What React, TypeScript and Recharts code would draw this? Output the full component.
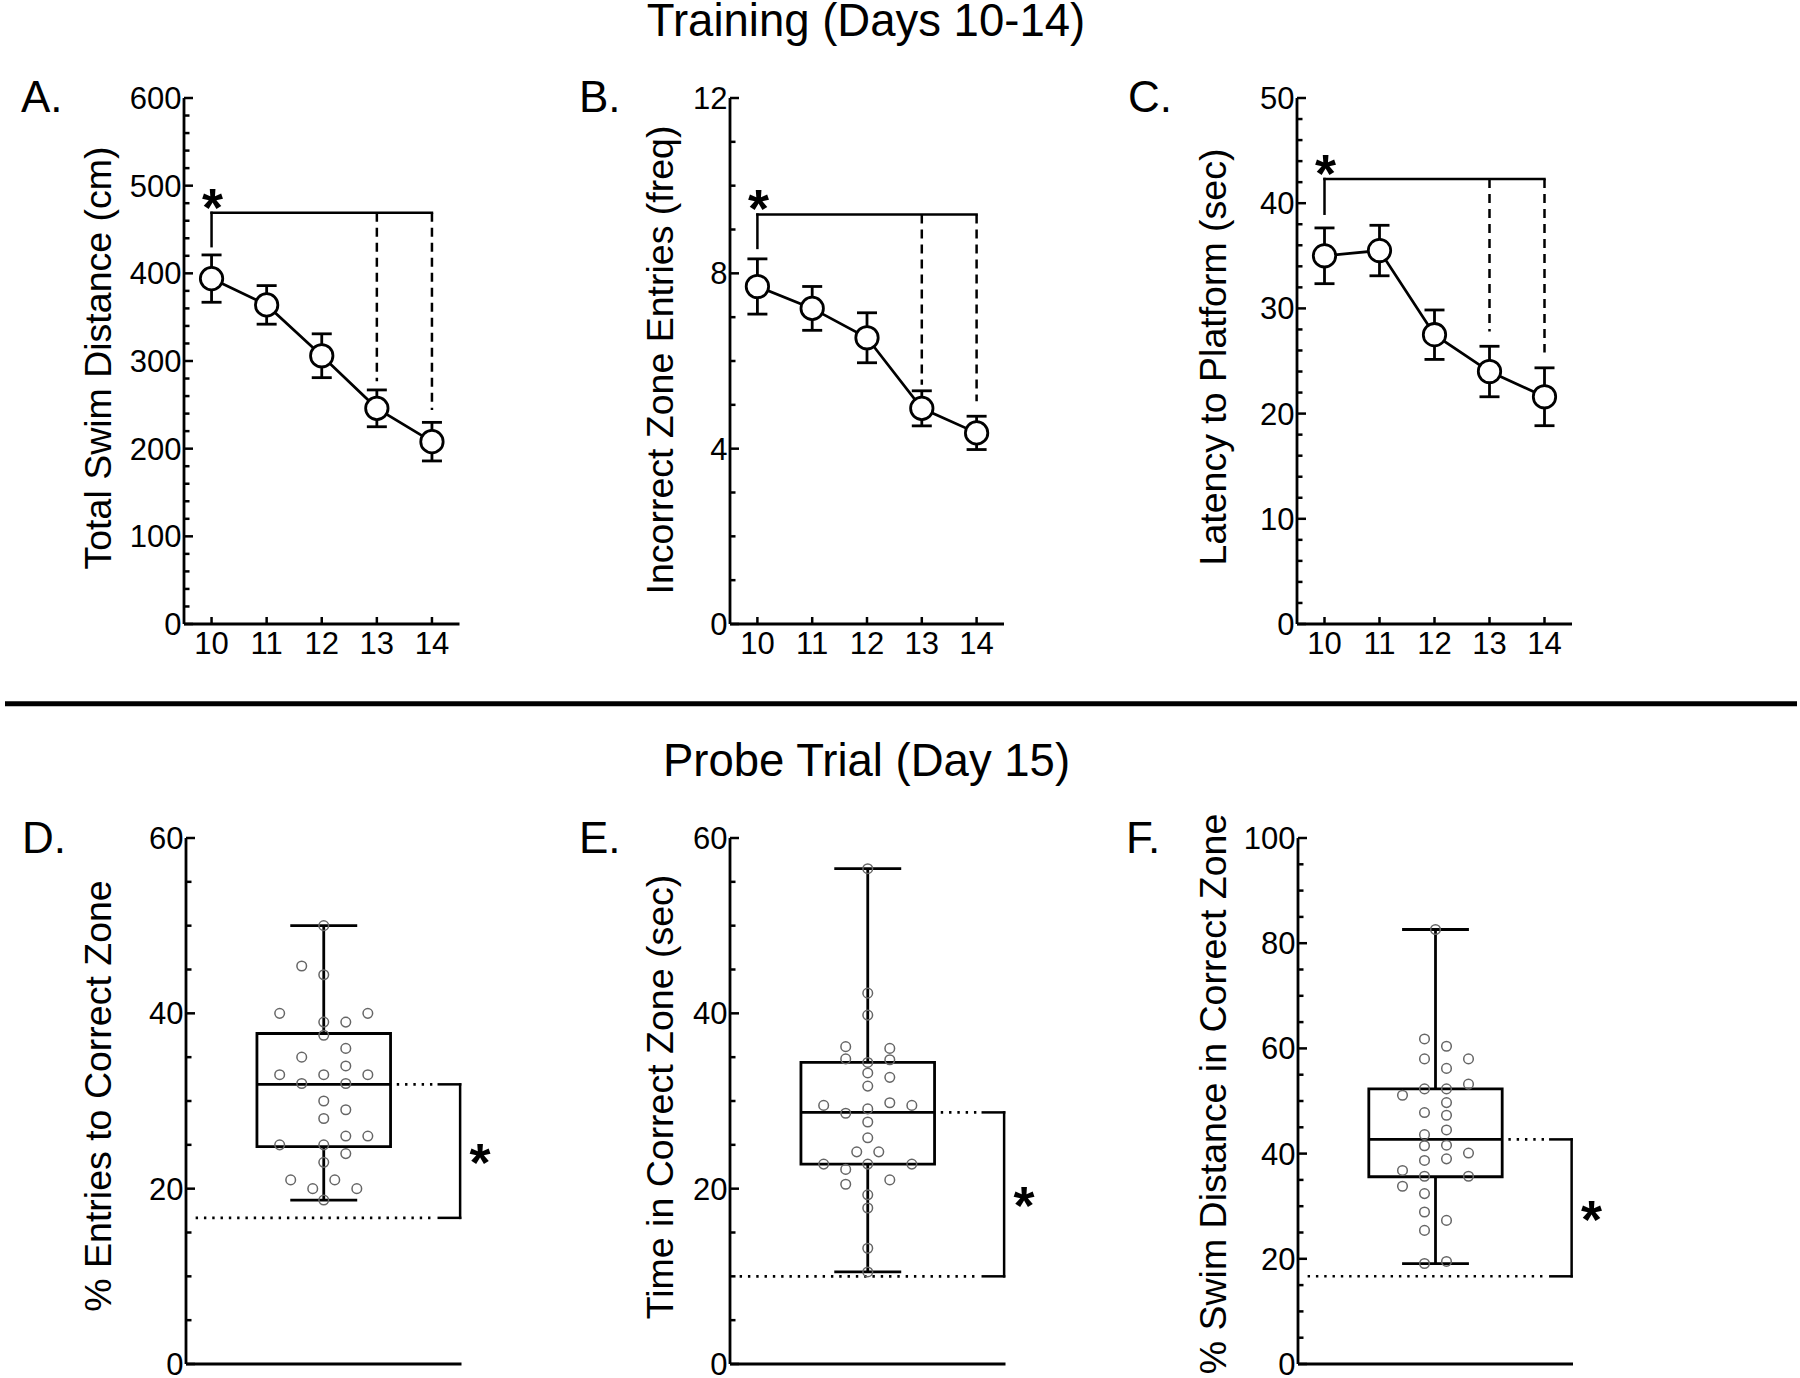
import React from "react";
import {
  ComposedChart,
  Line,
  Scatter,
  XAxis,
  YAxis,
  ErrorBar,
  ReferenceLine,
  ReferenceArea,
  ReferenceDot,
} from "recharts";

const FONT = '"Liberation Sans", Arial, Helvetica, sans-serif';

// ---- training (days 10-14) ----
const DAYS = [10, 11, 12, 13, 14];
const SWIM_MEAN = [394, 364, 306, 246, 208];
const SWIM_SEM = [27, 22, 25, 21, 22];
const ENTRIES_MEAN = [7.7, 7.2, 6.53, 4.92, 4.36];
const ENTRIES_SEM = [0.63, 0.5, 0.57, 0.4, 0.38];
const LATENCY_MEAN = [35.0, 35.5, 27.5, 24.0, 21.6];
const LATENCY_SEM = [2.65, 2.4, 2.35, 2.4, 2.75];

// significance brackets: [bar level, left end, day 13 end, day 14 end]
const SWIM_BRACKET = [469, 431, 277, 244];
const ENTRIES_BRACKET = [9.34, 8.58, 5.46, 5.08];
const LATENCY_BRACKET = [42.3, 39.0, 27.8, 25.8];

const SWIM_TICKS = [0, 100, 200, 300, 400, 500, 600];
const ENTRIES_TICKS = [0, 4, 8, 12];
const LATENCY_TICKS = [0, 10, 20, 30, 40, 50];

// ---- probe trial (day 15) ----
// jitter column (half-units) and value of each animal
const D_COLS = [0, -2, 0, -4, 4, 0, 2, 0, 2, -2, 2, -4, 0, 4, -2, 2, 0, 2, 0, 2, 4, -4, 0, 2, 0, -3, 1, -1, 3, 0];
const D_VALS = [50, 45.4, 44.4, 40, 40, 39, 39, 37.5, 36, 35, 34, 33, 33, 33, 32, 32, 30, 29, 28, 26, 26, 25, 25, 24, 23, 21, 21, 20, 20, 18.7];
const D_BOX = [18.7, 24.8, 31.9, 37.7, 50]; // min, q1, median, q3, max

const E_COLS = [0, 0, 0, -2, 2, -2, 2, 0, 0, 2, 0, -4, 2, 4, -2, 0, 0, 0, -1, 1, -4, 0, 4, -2, 2, -2, 0, 0, 0, 0];
const E_VALS = [56.5, 42.3, 39.8, 36.2, 36.0, 34.8, 34.7, 34.4, 33.2, 32.7, 31.7, 29.5, 29.8, 29.5, 28.6, 29.1, 27.6, 25.8, 24.2, 24.2, 22.8, 22.8, 22.8, 22.2, 21.0, 20.5, 19.3, 17.8, 13.2, 10.5];
const E_BOX = [10.5, 22.8, 28.7, 34.4, 56.5];

const F_COLS = [0, -1, 1, -1, 3, 1, 3, -1, 1, -3, 1, -1, 1, 1, -1, -1, 1, 3, -1, 1, -3, -1, 3, -3, -1, -1, 1, -1, -1, 1];
const F_VALS = [82.6, 61.8, 60.4, 58.0, 58.0, 56.2, 53.2, 52.3, 52.3, 51.1, 49.7, 47.8, 47.3, 44.5, 43.6, 41.5, 41.6, 40.1, 38.7, 39.0, 36.8, 35.7, 35.7, 33.8, 32.4, 28.9, 27.3, 25.4, 19.1, 19.5];
const F_BOX = [19.1, 35.6, 42.7, 52.3, 82.6];

const PCT_TICKS = [0, 20, 40, 60];
const TIME_TICKS = [0, 20, 40, 60];
const DIST_TICKS = [0, 20, 40, 60, 80, 100];

const CHANCE = [16.67, 10, 16.67];

const STROKE = 2.8;
const PLOT_H = 526;
const M = { top: 40, right: 70, bottom: 30, left: 20 };
const YW = 80;
const XH = 50;
const STAR_SIZE = 54;

function allTicks(max: number, step: number) {
  const out: number[] = [];
  for (let v = 0; v <= max + 1e-9; v += step) out.push(Math.round(v * 100) / 100);
  return out;
}

function YTick(props: any) {
  const { x, y, payload, majors } = props;
  const major = majors.includes(payload.value);
  return (
    <g>
      <line x1={x} x2={x + (major ? 9 : 5.5)} y1={y} y2={y} stroke="#000" strokeWidth={2.5} />
      {major && (
        <text x={x - 2.5} y={y + 11} textAnchor="end" fontSize={31} fontFamily={FONT} fill="#000">
          {payload.value}
        </text>
      )}
    </g>
  );
}

function XTick(props: any) {
  const { x, y, payload } = props;
  return (
    <g>
      <line x1={x} x2={x} y1={y} y2={y - 7} stroke="#000" strokeWidth={2.5} />
      <text x={x} y={y + 29.5} textAnchor="middle" fontSize={31} fontFamily={FONT} fill="#000">
        {payload.value}
      </text>
    </g>
  );
}

function Asterisk(props: any) {
  const { cx, cy, dx = 0, dy = 0 } = props;
  return (
    <text
      x={cx + dx}
      y={cy + dy + 0.55 * STAR_SIZE}
      textAnchor="middle"
      fontSize={STAR_SIZE}
      fontWeight="bold"
      fontFamily={FONT}
      fill="#000"
    >
      *
    </text>
  );
}

type LinePanelProps = {
  left: number;
  top: number;
  plotW: number;
  means: number[];
  sems: number[];
  majors: number[];
  minorStep: number;
  bracket: number[];
};

function LinePanel({ left, top, plotW, means, sems, majors, minorStep, bracket }: LinePanelProps) {
  const rows = DAYS.map((d, i) => ({ day: d, mean: means[i], err: sems[i] }));
  const yMax = majors[majors.length - 1];
  const width = M.left + YW + plotW + M.right;
  const height = M.top + PLOT_H + XH + M.bottom;
  const [bar, leftEnd, end13, end14] = bracket;
  return (
    <div style={{ position: "absolute", left: left - M.left - YW, top: top - M.top }}>
      <ComposedChart width={width} height={height} data={rows} margin={M}>
        <XAxis
          type="number"
          dataKey="day"
          domain={[9.5, 14.5]}
          ticks={DAYS}
          interval={0}
          tickLine={false}
          tickSize={0}
          tickMargin={0}
          height={XH}
          tick={(p: any) => <XTick {...p} />}
          axisLine={{ stroke: "#000", strokeWidth: STROKE }}
        />
        <YAxis
          type="number"
          domain={[0, yMax]}
          ticks={allTicks(yMax, minorStep)}
          interval={0}
          width={YW}
          tickLine={false}
          tickSize={0}
          tickMargin={0}
          tick={(p: any) => <YTick {...p} majors={majors} />}
          axisLine={{ stroke: "#000", strokeWidth: STROKE }}
        />
        <ReferenceLine segment={[{ x: 10, y: bar }, { x: 14, y: bar }]} stroke="#000" strokeWidth={2.5} strokeLinecap="square" />
        <ReferenceLine segment={[{ x: 10, y: bar }, { x: 10, y: leftEnd }]} stroke="#000" strokeWidth={2.5} strokeLinecap="square" />
        <ReferenceLine segment={[{ x: 13, y: bar }, { x: 13, y: end13 }]} stroke="#000" strokeWidth={2.5} strokeDasharray="9 6" />
        <ReferenceLine segment={[{ x: 14, y: bar }, { x: 14, y: end14 }]} stroke="#000" strokeWidth={2.5} strokeDasharray="9 6" />
        <ReferenceDot x={10} y={bar} r={0} shape={(p: any) => <Asterisk {...p} dx={1} dy={-17} />} />
        <Line
          dataKey="mean"
          stroke="#000"
          strokeWidth={2.7}
          dot={false}
          activeDot={false}
          isAnimationActive={false}
        >
          <ErrorBar dataKey="err" width={10} stroke="#000" strokeWidth={STROKE} />
        </Line>
        <Scatter
          data={rows}
          dataKey="mean"
          isAnimationActive={false}
          shape={(p: any) => <circle cx={p.cx} cy={p.cy} r={11.2} fill="#fff" stroke="#000" strokeWidth={STROKE} />}
        />
      </ComposedChart>
    </div>
  );
}

type BoxPanelProps = {
  left: number;
  top: number;
  plotW: number;
  cols: number[];
  vals: number[];
  box: number[];
  majors: number[];
  minorStep: number;
  chance: number;
};

function BoxPanel({ left, top, plotW, cols, vals, box, majors, minorStep, chance }: BoxPanelProps) {
  const points = vals.map((v, i) => ({ x: cols[i] * 0.08, y: v }));
  const yMax = majors[majors.length - 1];
  const width = M.left + YW + plotW + M.right;
  const height = M.top + PLOT_H + XH + M.bottom;
  const [lo, q1, med, q3, hi] = box;
  const ln = { stroke: "#000", strokeWidth: STROKE };
  const hw = 0.485;
  const cap = 0.243;
  return (
    <div style={{ position: "absolute", left: left - M.left - YW, top: top - M.top }}>
      <ComposedChart width={width} height={height} data={points} margin={M}>
        <XAxis
          type="number"
          dataKey="x"
          domain={[-1, 1]}
          tick={false}
          tickLine={false}
          height={XH}
          axisLine={{ stroke: "#000", strokeWidth: STROKE }}
        />
        <YAxis
          type="number"
          dataKey="y"
          domain={[0, yMax]}
          ticks={allTicks(yMax, minorStep)}
          interval={0}
          width={YW}
          tickLine={false}
          tickSize={0}
          tickMargin={0}
          tick={(p: any) => <YTick {...p} majors={majors} />}
          axisLine={{ stroke: "#000", strokeWidth: STROKE }}
        />
        <ReferenceLine segment={[{ x: 0, y: q3 }, { x: 0, y: hi }]} {...ln} />
        <ReferenceLine segment={[{ x: 0, y: lo }, { x: 0, y: q1 }]} {...ln} />
        <ReferenceLine segment={[{ x: -cap, y: hi }, { x: cap, y: hi }]} {...ln} />
        <ReferenceLine segment={[{ x: -cap, y: lo }, { x: cap, y: lo }]} {...ln} />
        <ReferenceArea x1={-hw} x2={hw} y1={q1} y2={q3} fill="#fff" fillOpacity={0} stroke="#000" strokeWidth={STROKE} />
        <ReferenceLine segment={[{ x: -hw, y: med }, { x: hw, y: med }]} {...ln} />
        <ReferenceLine segment={[{ x: 0.53, y: med }, { x: 0.79, y: med }]} stroke="#000" strokeWidth={2.6} strokeDasharray="2.4 5.9" />
        <ReferenceLine segment={[{ x: -0.93, y: chance }, { x: 0.79, y: chance }]} stroke="#000" strokeWidth={2.6} strokeDasharray="2.4 5.9" />
        <ReferenceLine segment={[{ x: 0.835, y: med }, { x: 0.99, y: med }]} stroke="#000" strokeWidth={2.5} strokeLinecap="square" />
        <ReferenceLine segment={[{ x: 0.835, y: chance }, { x: 0.99, y: chance }]} stroke="#000" strokeWidth={2.5} strokeLinecap="square" />
        <ReferenceLine segment={[{ x: 0.99, y: chance }, { x: 0.99, y: med }]} stroke="#000" strokeWidth={2.5} strokeLinecap="square" />
        <ReferenceDot x={0.99} y={(med + chance) / 2} r={0} shape={(p: any) => <Asterisk {...p} dx={20} dy={0} />} />
        <Scatter
          data={points}
          dataKey="y"
          isAnimationActive={false}
          shape={(p: any) => <circle cx={p.cx} cy={p.cy} r={4.8} fill="none" stroke="#666" strokeWidth={1.5} />}
        />
      </ComposedChart>
    </div>
  );
}

function YTitle({ x, y, text }: { x: number; y: number; text: string }) {
  return (
    <text transform={`translate(${x}, ${y}) rotate(-90)`} textAnchor="middle" fontSize={37.5} fontFamily={FONT} fill="#000">
      {text}
    </text>
  );
}

function Letter({ x, y, text }: { x: number; y: number; text: string }) {
  return (
    <text x={x} y={y} fontSize={44} fontFamily={FONT} fill="#000">
      {text}
    </text>
  );
}

export default function App() {
  const TOP1 = 98.3;
  const TOP2 = 838;
  return (
    <div style={{ position: "absolute", left: 0, top: 0, width: 1800, height: 1378, background: "#fff", overflow: "hidden" }}>
      <LinePanel left={183.7} top={TOP1} plotW={275.5} means={SWIM_MEAN} sems={SWIM_SEM} majors={SWIM_TICKS} minorStep={20} bracket={SWIM_BRACKET} />
      <LinePanel left={730} top={TOP1} plotW={274} means={ENTRIES_MEAN} sems={ENTRIES_SEM} majors={ENTRIES_TICKS} minorStep={1} bracket={ENTRIES_BRACKET} />
      <LinePanel left={1296.6} top={TOP1} plotW={275} means={LATENCY_MEAN} sems={LATENCY_SEM} majors={LATENCY_TICKS} minorStep={2} bracket={LATENCY_BRACKET} />

      <BoxPanel left={185.6} top={TOP2} plotW={275.5} cols={D_COLS} vals={D_VALS} box={D_BOX} majors={PCT_TICKS} minorStep={5} chance={CHANCE[0]} />
      <BoxPanel left={730.3} top={TOP2} plotW={275.5} cols={E_COLS} vals={E_VALS} box={E_BOX} majors={TIME_TICKS} minorStep={5} chance={CHANCE[1]} />
      <BoxPanel left={1297.5} top={TOP2} plotW={275} cols={F_COLS} vals={F_VALS} box={F_BOX} majors={DIST_TICKS} minorStep={5} chance={CHANCE[2]} />

      <svg width={1800} height={1378} style={{ position: "absolute", left: 0, top: 0, pointerEvents: "none" }}>
        <text x={866} y={36} textAnchor="middle" fontSize={45.5} fontFamily={FONT} fill="#000">
          Training (Days 10-14)
        </text>
        <text x={866.5} y={775.5} textAnchor="middle" fontSize={45.5} fontFamily={FONT} fill="#000">
          Probe Trial (Day 15)
        </text>
        <line x1={5} x2={1797} y1={703.7} y2={703.7} stroke="#000" strokeWidth={5} />

        <Letter x={21} y={111.7} text="A." />
        <Letter x={579} y={111.7} text="B." />
        <Letter x={1128} y={111.7} text="C." />
        <Letter x={22} y={853} text="D." />
        <Letter x={579} y={853} text="E." />
        <Letter x={1126} y={853} text="F." />

        <YTitle x={111} y={358} text="Total Swim Distance (cm)" />
        <YTitle x={673} y={360} text="Incorrect Zone Entries (freq)" />
        <YTitle x={1226} y={357} text="Latency to Platform (sec)" />
        <YTitle x={111} y={1096} text="% Entries to Correct Zone" />
        <YTitle x={673} y={1097} text="Time in Correct Zone (sec)" />
        <YTitle x={1226} y={1094} text="% Swim Distance in Correct Zone" />
      </svg>
    </div>
  );
}
